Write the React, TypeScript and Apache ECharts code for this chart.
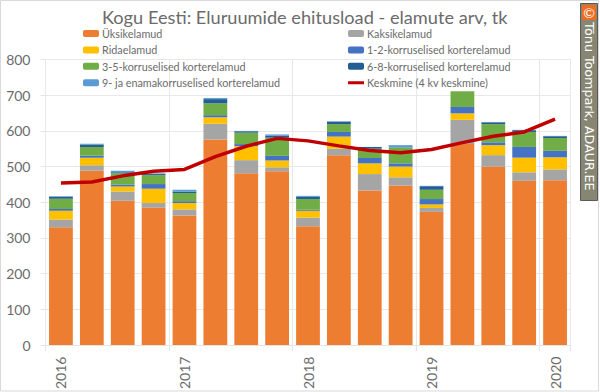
import React, { useEffect, useRef } from "react";
import * as echarts from "echarts";

const categories = ["2016","","","","2017","","","","2018","","","","2019","","","","2020"];
const yksik = [330,488,404,385,363,576,481,487,333,532,433,447,373,563,500,460,462];
const kaksik = [22,16,26,13,17,44,37,11,24,18,46,23,11,68,32,24,30];
const rida = [24,21,14,40,18,18,39,19,19,34,30,30,10,18,28,41,34];
const k12 = [5,5,5,13,5,6,6,13,3,13,15,9,15,18,8,30,18];
const k35 = [29,25,32,25,23,33,32,51,30,22,26,44,26,44,51,42,36];
const k68 = [5,7,3,3,4,12,4,5,6,6,5,1,10,0,5,5,5];
const k9 = [2,2,4,2,5,3,1,4,3,2,0,6,1,0,1,1,1];
const keskmine = [454,457,474,487,492,528,557,579,572,558,545,539,548,567,585,597,633];
const yTicks = { min: 0, max: 800, interval: 100 };
const FONT = "Lato";
const TXT = "#6b6b6b";

const names = ["Üksikelamud","Kaksikelamud","Ridaelamud","1-2-korruselised korterelamud","3-5-korruselised korterelamud","6-8-korruselised korterelamud","9- ja enamakorruselised korterelamud"];
const values = [yksik,kaksik,rida,k12,k35,k68,k9];
const colors = ["#ed7d31","#a5a5a5","#ffc000","#4472c4","#70ad47","#255e91","#5b9bd5"];
const lineName = "Keskmine (4 kv keskmine)";
const lineIcon = "path://M0 0L0.01 0Z M0 2H16V5H0Z M16 7L15.99 7Z";

export default function App() {
  const ref = useRef<HTMLDivElement>(null);
  useEffect(() => {
    const chart = echarts.init(ref.current!, undefined, { renderer: "svg" });
    const legendBase = {
      orient: "vertical" as const, top: 22.5, itemWidth: 16, itemHeight: 7, itemGap: 4.4,
      textStyle: { fontFamily: FONT, fontSize: 10.8, color: TXT, padding: [0,0,0,-2], lineHeight: 12 },
    };
    chart.setOption({
      animation: false,
      backgroundColor: "#ffffff",
      title: { text: "Kogu Eesti: Eluruumide ehitusload - elamute arv, tk", left: 97, top: 3,
        textStyle: { fontFamily: FONT, fontSize: 18.2, fontWeight: "normal", color: TXT } },
      legend: [
        { ...legendBase, left: 78, data: [names[0], names[2], names[4], names[6]] },
        { ...legendBase, left: 343, data: [names[1], names[3], names[5], { name: lineName, icon: lineIcon, itemStyle: { color: "#c00000", opacity: 1 } }] },
      ],
      grid: { left: 45.5, right: 29.5, top: 59.5, bottom: 46.5 },
      xAxis: {
        type: "category", data: categories,
        axisTick: { show: true, alignWithLabel: false, interval: (i: number) => i % 4 === 0, length: 6, lineStyle: { color: "#e4e4e4" } },
        axisLine: { lineStyle: { color: "#e4e4e4" } },
        splitLine: { show: true, interval: (i: number) => i % 4 === 0, lineStyle: { color: "#e8e8e8", width: 1 } },
        axisLabel: { interval: 0, rotate: 90, fontFamily: FONT, fontSize: 14, color: TXT, margin: 11.5, hideOverlap: false },
      },
      yAxis: {
        type: "value", ...yTicks,
        axisLine: { show: false }, axisTick: { show: true, length: 5, lineStyle: { color: "#e4e4e4" } },
        splitLine: { lineStyle: { color: "#e8e8e8", width: 1 } },
        axisLabel: { fontFamily: FONT, fontSize: 14, color: TXT, margin: 15 },
      },
      series: [
        ...names.map((n, i) => ({
          type: "bar", name: n, stack: "a", data: values[i], barWidth: "77%",
          itemStyle: { color: colors[i] },
        })),
        { type: "line", name: lineName, data: keskmine, symbol: "none", z: 5, lineStyle: { color: "#c00000", width: 3.5 }, itemStyle: { color: "#c00000" } },
      ],
      graphic: [
        { type: "rect", shape: { x: 0.5, y: 0.5, width: 598, height: 390.5 }, style: { fill: "none", stroke: "#d9d9d9", lineWidth: 1 }, silent: true },
        { type: "rect", shape: { x: 580.5, y: 3.5, width: 17, height: 197 }, style: { fill: "#868672", stroke: "#5a5a5a", lineWidth: 1 } },
        { type: "rect", shape: { x: 582, y: 5, width: 14, height: 15 }, style: { fill: "#ee6c1f" } },
        { type: "text", x: 589, y: 12.5, style: { text: "©", fill: "#ffffff", font: "14px Lato", align: "center", verticalAlign: "middle" } },
        { type: "text", x: 589, y: 22, rotation: -Math.PI / 2, style: { text: "Tõnu Toompark, ADAUR.EE", fill: "#ffffff", font: "12.7px 'DejaVu Sans'", align: "left", verticalAlign: "middle" } },
      ],
    });
    return () => chart.dispose();
  }, []);
  return <div ref={ref} style={{ position: "fixed", left: 0, top: 0, width: 600, height: 392 }} />;
}
